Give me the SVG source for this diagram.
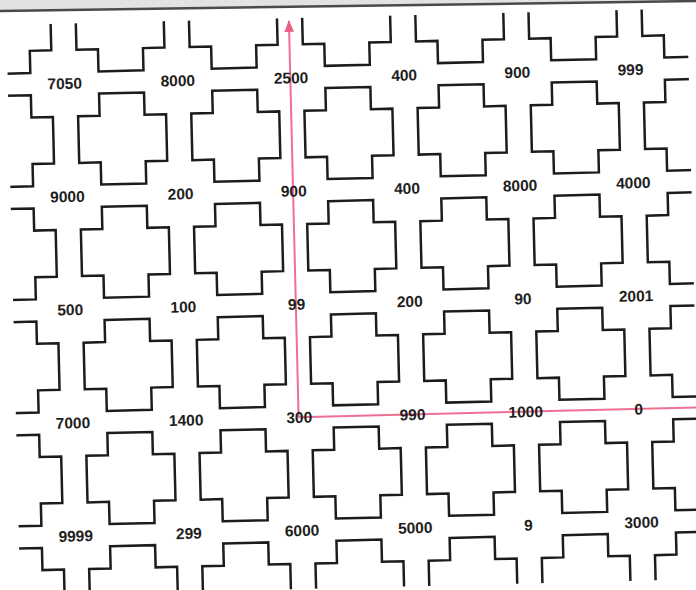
<svg xmlns="http://www.w3.org/2000/svg" xmlns:xlink="http://www.w3.org/1999/xlink" width="696" height="590" viewBox="0 0 696 590">
<style>
.cr{fill:none;stroke:#1c1c1c;stroke-width:2.5;stroke-linejoin:miter}
.lb{font-family:"Liberation Sans",Arial,sans-serif;font-weight:700;font-size:15.5px;fill:#1e1e1e;text-anchor:middle}
.ax{stroke:#ec5f86;stroke-width:2;fill:none;stroke-opacity:0.9}
</style>
<defs>
<path id="cross" d="M-22.5,-45.5H22.5V-23.3H44V23.3H22.5V45.5H-22.5V23.3H-44V-23.3H-22.5Z"/>
<clipPath id="clip"><rect x="16" y="18" width="681" height="571"/></clipPath>
<marker id="arr" viewBox="0 0 10 10" refX="9" refY="5" markerWidth="6" markerHeight="6" markerUnits="strokeWidth" orient="auto"><path d="M0,1L10,5L0,9Z" fill="#ec5f86"/></marker>
</defs>
<rect width="696" height="590" fill="#ffffff"/>
<polygon points="0,0 696,0 696,1 0,11" fill="#e2e2e2"/>
<line x1="0" y1="11" x2="696" y2="1" stroke="#4a4a4a" stroke-width="2.5"/>
<g transform="rotate(-1.4 299 417)">
<g id="crosses" clip-path="url(#clip)">
<g id="row0">
<use xlink:href="#cross" class="cr" x="16.3" y="21.1"/><use xlink:href="#cross" class="cr" x="129.5" y="21.1"/><use xlink:href="#cross" class="cr" x="242.7" y="21.1"/><use xlink:href="#cross" class="cr" x="355.9" y="21.1"/><use xlink:href="#cross" class="cr" x="469.1" y="21.1"/><use xlink:href="#cross" class="cr" x="582.3" y="21.1"/><use xlink:href="#cross" class="cr" x="695.5" y="21.1"/>
</g>
<g id="row1">
<use xlink:href="#cross" class="cr" x="16.3" y="134.3"/><use xlink:href="#cross" class="cr" x="129.5" y="134.3"/><use xlink:href="#cross" class="cr" x="242.7" y="134.3"/><use xlink:href="#cross" class="cr" x="355.9" y="134.3"/><use xlink:href="#cross" class="cr" x="469.1" y="134.3"/><use xlink:href="#cross" class="cr" x="582.3" y="134.3"/><use xlink:href="#cross" class="cr" x="695.5" y="134.3"/>
</g>
<g id="row2">
<use xlink:href="#cross" class="cr" x="16.3" y="247.5"/><use xlink:href="#cross" class="cr" x="129.5" y="247.5"/><use xlink:href="#cross" class="cr" x="242.7" y="247.5"/><use xlink:href="#cross" class="cr" x="355.9" y="247.5"/><use xlink:href="#cross" class="cr" x="469.1" y="247.5"/><use xlink:href="#cross" class="cr" x="582.3" y="247.5"/><use xlink:href="#cross" class="cr" x="695.5" y="247.5"/>
</g>
<g id="row3">
<use xlink:href="#cross" class="cr" x="16.3" y="360.7"/><use xlink:href="#cross" class="cr" x="129.5" y="360.7"/><use xlink:href="#cross" class="cr" x="242.7" y="360.7"/><use xlink:href="#cross" class="cr" x="355.9" y="360.7"/><use xlink:href="#cross" class="cr" x="469.1" y="360.7"/><use xlink:href="#cross" class="cr" x="582.3" y="360.7"/><use xlink:href="#cross" class="cr" x="695.5" y="360.7"/>
</g>
<g id="row4">
<use xlink:href="#cross" class="cr" x="16.3" y="473.9"/><use xlink:href="#cross" class="cr" x="129.5" y="473.9"/><use xlink:href="#cross" class="cr" x="242.7" y="473.9"/><use xlink:href="#cross" class="cr" x="355.9" y="473.9"/><use xlink:href="#cross" class="cr" x="469.1" y="473.9"/><use xlink:href="#cross" class="cr" x="582.3" y="473.9"/><use xlink:href="#cross" class="cr" x="695.5" y="473.9"/>
</g>
<g id="row5">
<use xlink:href="#cross" class="cr" x="16.3" y="587.1"/><use xlink:href="#cross" class="cr" x="129.5" y="587.1"/><use xlink:href="#cross" class="cr" x="242.7" y="587.1"/><use xlink:href="#cross" class="cr" x="355.9" y="587.1"/><use xlink:href="#cross" class="cr" x="469.1" y="587.1"/><use xlink:href="#cross" class="cr" x="582.3" y="587.1"/><use xlink:href="#cross" class="cr" x="695.5" y="587.1"/>
</g>
</g>
<g id="connectors">
<line class="ax" x1="298.6" y1="417.2" x2="298.6" y2="21" marker-end="url(#arr)"/>
<line class="ax" x1="298.6" y1="417.2" x2="720" y2="417.2"/>
</g>
<g id="labels">
<g id="lab-r1">
<text class="lb" x="72.9" y="83.3">7050</text><text class="lb" x="186.1" y="83.3">8000</text><text class="lb" x="299.3" y="83.3">2500</text><text class="lb" x="412.5" y="83.3">400</text><text class="lb" x="525.7" y="83.3">900</text><text class="lb" x="638.9" y="83.3">999</text>
</g>
<g id="lab-r2">
<text class="lb" x="72.9" y="196.5">9000</text><text class="lb" x="186.1" y="196.5">200</text><text class="lb" x="299.3" y="196.5">900</text><text class="lb" x="412.5" y="196.5">400</text><text class="lb" x="525.7" y="196.5">8000</text><text class="lb" x="638.9" y="196.5">4000</text>
</g>
<g id="lab-r3">
<text class="lb" x="72.9" y="309.7">500</text><text class="lb" x="186.1" y="309.7">100</text><text class="lb" x="299.3" y="309.7">99</text><text class="lb" x="412.5" y="309.7">200</text><text class="lb" x="525.7" y="309.7">90</text><text class="lb" x="638.9" y="309.7">2001</text>
</g>
<g id="lab-r4">
<text class="lb" x="72.9" y="422.9">7000</text><text class="lb" x="186.1" y="422.9">1400</text><text class="lb" x="299.3" y="422.9">300</text><text class="lb" x="412.5" y="422.9">990</text><text class="lb" x="525.7" y="422.9">1000</text><text class="lb" x="638.9" y="422.9">0</text>
</g>
<g id="lab-r5">
<text class="lb" x="72.9" y="536.1">9999</text><text class="lb" x="186.1" y="536.1">299</text><text class="lb" x="299.3" y="536.1">6000</text><text class="lb" x="412.5" y="536.1">5000</text><text class="lb" x="525.7" y="536.1">9</text><text class="lb" x="638.9" y="536.1">3000</text>
</g>
</g>
</g>
</svg>
